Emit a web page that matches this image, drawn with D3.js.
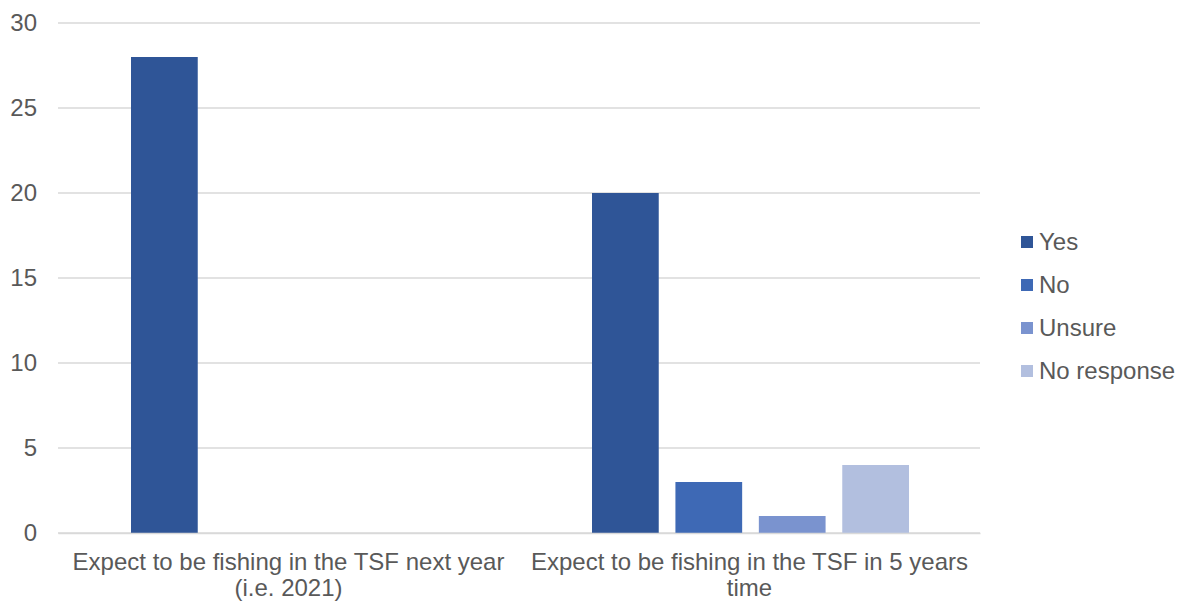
<!DOCTYPE html>
<html>
<head>
<meta charset="utf-8">
<script src="https://cdn.jsdelivr.net/npm/d3@7/dist/d3.min.js"></script>
<style>
  html, body { margin: 0; padding: 0; background: #fff; }
  svg text { font-family: "Liberation Sans", Arial, sans-serif; fill: #595959; }
</style>
</head>
<body>
<svg id="chart" width="1182" height="601"></svg>
<script>
// Survey responses about fishing in the TSF
const categories = [
  ["Expect to be fishing in the TSF next year", "(i.e. 2021)"],
  ["Expect to be fishing in the TSF in 5 years", "time"]
];
const seriesNames = ["Yes", "No", "Unsure", "No response"];
const yesValues = [28, 20];
const noValues = [0, 3];
const unsureValues = [0, 1];
const noResponseValues = [0, 4];
const yTicks = [0, 5, 10, 15, 20, 25, 30];
const colors = ["#2f5597", "#3e69b5", "#7a93cf", "#b2bfdf"];

const seriesValues = [yesValues, noValues, unsureValues, noResponseValues];
const rows = categories.map((c, i) => ({
  key: i,
  label: c,
  values: seriesNames.map((s, j) => ({ series: s, idx: j, value: seriesValues[j][i] }))
}));

const fontSize = 24;
const svg = d3.select("#chart");
const margin = { left: 58, right: 202, top: 23, bottom: 68 };
const width = 1182 - margin.left - margin.right;
const height = 601 - margin.top - margin.bottom;

const g = svg.append("g").attr("transform", `translate(${margin.left},${margin.top})`);

const x0 = d3.scaleBand().domain(rows.map(r => r.key)).range([0, width]).padding(0);
const x1 = d3.scaleBand().domain(seriesNames)
  .range([73, x0.bandwidth() - 71]).paddingInner(0.2).paddingOuter(0);
const y = d3.scaleLinear().domain([0, 30]).range([height, 0]);

// Horizontal gridlines
g.append("g").selectAll("line").data(yTicks).join("line")
  .attr("x1", 0).attr("x2", width)
  .attr("y1", d => y(d)).attr("y2", d => y(d))
  .attr("stroke", "#d9d9d9").attr("stroke-width", 1.5);

// Y axis labels
const yAxis = d3.axisLeft(y).tickValues(yTicks).tickSize(0).tickPadding(21);
const yg = g.append("g").call(yAxis);
yg.select(".domain").remove();
yg.selectAll("text").attr("font-size", fontSize).attr("font-family", "Liberation Sans, Arial, sans-serif")
  .attr("fill", "#595959");

// Bars
const groups = g.append("g").selectAll("g").data(rows).join("g")
  .attr("transform", r => `translate(${x0(r.key)},0)`);
groups.selectAll("rect").data(r => r.values).join("rect")
  .attr("x", d => x1(d.series))
  .attr("width", x1.bandwidth())
  .attr("y", d => y(d.value))
  .attr("height", d => height - y(d.value))
  .attr("fill", d => colors[d.idx]);

// Category axis
const xAxis = d3.axisBottom(x0).tickSize(0).tickFormat("");
const xg = g.append("g").attr("transform", `translate(0,${height})`).call(xAxis);
xg.select(".domain").attr("stroke", "#d9d9d9").attr("stroke-width", 1.5);
xg.selectAll(".tick").each(function(k) {
  const t = d3.select(this).append("text")
    .attr("text-anchor", "middle")
    .attr("font-size", fontSize)
    .attr("fill", "#595959");
  rows[k].label.forEach((line, i) => {
    t.append("tspan").attr("x", 0).attr("y", 37 + i * 26).text(line);
  });
});

// Legend
const legend = svg.append("g").attr("transform", "translate(1021,242)");
const items = legend.selectAll("g").data(seriesNames).join("g")
  .attr("transform", (d, i) => `translate(0,${i * 43})`);
items.append("rect").attr("x", 0).attr("y", -6).attr("width", 12).attr("height", 12)
  .attr("fill", (d, i) => colors[i]);
items.append("text").attr("x", 18).attr("y", 0).attr("dy", "0.35em")
  .attr("font-size", fontSize).text(d => d);
</script>
</body>
</html>
